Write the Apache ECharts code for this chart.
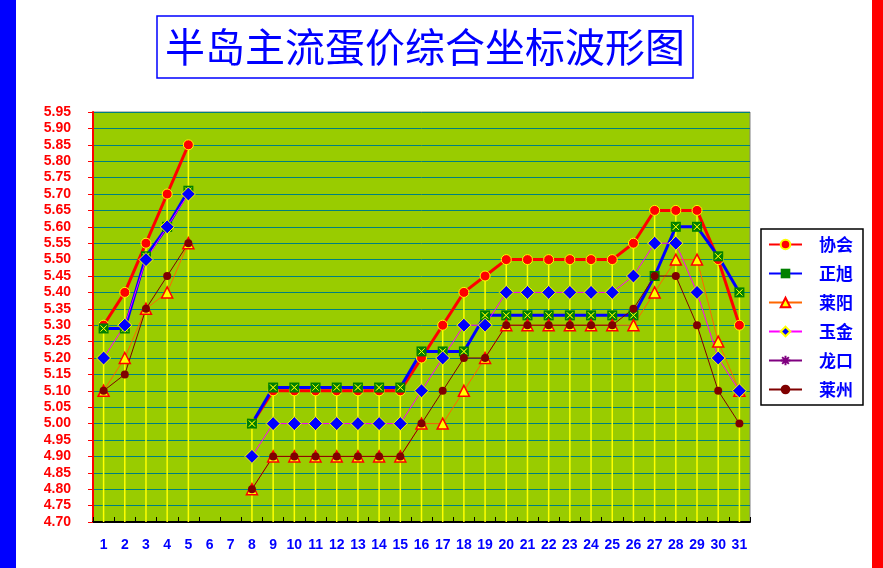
<!DOCTYPE html>
<html>
<head>
<meta charset="utf-8">
<script src="https://cdn.jsdelivr.net/npm/echarts@6/dist/echarts.min.js"></script>
<style>
  html, body { margin: 0; padding: 0; background: #fff; }
  #main { width: 883px; height: 568px; }
</style>
</head>
<body>
<div id="main"></div>
<script>
// 日期 1..31
var days = [];
for (var d = 1; d <= 31; d++) { days.push(String(d)); }

var xiehui   = [5.30, 5.40, 5.55, 5.70, 5.85, null, null, 5.00, 5.10, 5.10, 5.10, 5.10, 5.10, 5.10, 5.10, 5.20, 5.30, 5.40, 5.45, 5.50, 5.50, 5.50, 5.50, 5.50, 5.50, 5.55, 5.65, 5.65, 5.65, 5.50, 5.30];
var zhengxu  = [5.29, 5.29, 5.51, 5.60, 5.71, null, null, 5.00, 5.11, 5.11, 5.11, 5.11, 5.11, 5.11, 5.11, 5.22, 5.22, 5.22, 5.33, 5.33, 5.33, 5.33, 5.33, 5.33, 5.33, 5.33, 5.45, 5.60, 5.60, 5.51, 5.40];
var laiyang  = [5.10, 5.20, 5.35, 5.40, 5.55, null, null, 4.80, 4.90, 4.90, 4.90, 4.90, 4.90, 4.90, 4.90, 5.00, 5.00, 5.10, 5.20, 5.30, 5.30, 5.30, 5.30, 5.30, 5.30, 5.30, 5.40, 5.50, 5.50, 5.25, 5.10];
var yujin    = [5.20, 5.30, 5.50, 5.60, 5.70, null, null, 4.90, 5.00, 5.00, 5.00, 5.00, 5.00, 5.00, 5.00, 5.10, 5.20, 5.30, 5.30, 5.40, 5.40, 5.40, 5.40, 5.40, 5.40, 5.45, 5.55, 5.55, 5.40, 5.20, 5.10];
var longkou  = days.map(function () { return null; });
var laizhou  = [5.10, 5.15, 5.35, 5.45, 5.55, null, null, 4.80, 4.90, 4.90, 4.90, 4.90, 4.90, 4.90, 4.90, 5.00, 5.10, 5.20, 5.20, 5.30, 5.30, 5.30, 5.30, 5.30, 5.30, 5.35, 5.45, 5.45, 5.30, 5.10, 5.00];

var yMin = 4.70, yMax = 5.95, yStep = 0.05;

// 垂直线: 每天最高价
var allSeries = [xiehui, zhengxu, laiyang, yujin, longkou, laizhou];
var dropLine = days.map(function (d, i) {
    var m = null;
    allSeries.forEach(function (s) {
        if (s[i] != null && (m == null || s[i] > m)) m = s[i];
    });
    return m;
});

var chart = echarts.init(document.getElementById('main'));
var option = {
    backgroundColor: '#ffffff',
    animation: false,
    title: {
        text: '半岛主流蛋价综合坐标波形图',
        left: 157,
        top: 16,
        padding: [11, 8, 11, 8],
        borderColor: '#0000ff',
        borderWidth: 1.5,
        textStyle: {
            color: '#0000ff',
            fontSize: 40,
            fontWeight: 'normal',
            fontFamily: 'Noto Sans CJK SC'
        }
    },
    graphic: [
        {type: 'rect', shape: {x: 0, y: 0, width: 16, height: 568}, style: {fill: '#0000ff'}},
        {type: 'rect', shape: {x: 872, y: 0, width: 11, height: 568}, style: {fill: '#ff0000'}}
    ],
    legend: {
        orient: 'vertical',
        left: 761,
        top: 229,
        data: ['协会', '正旭', '莱阳', '玉金', '龙口', '莱州'],
        backgroundColor: '#ffffff',
        borderColor: '#000000',
        borderWidth: 1.5,
        padding: [7, 10, 7, 7],
        itemGap: 12,
        itemWidth: 33,
        itemHeight: 12,
        textStyle: {
            color: '#0000ff',
            fontSize: 17,
            fontWeight: 'bold',
            fontFamily: 'Noto Sans CJK SC',
            padding: [0, 0, 0, 12]
        }
    },
    grid: {
        left: 93,
        right: 133,
        top: 112,
        bottom: 46,
        show: true,
        backgroundColor: '#99cc00',
        borderColor: '#808080',
        borderWidth: 1
    },
    xAxis: {
        type: 'category',
        data: days,
        boundaryGap: true,
        axisLine: {lineStyle: {color: '#000000', width: 2}},
        axisTick: {show: true, inside: true, length: 5, lineStyle: {color: '#000000'}},
        axisLabel: {
            interval: 0,
            color: '#0000ff',
            fontSize: 14,
            fontWeight: 'bold',
            fontFamily: 'Arial',
            margin: 16
        },
        splitLine: {show: false}
    },
    yAxis: {
        type: 'value',
        min: yMin,
        max: yMax,
        interval: yStep,
        axisLine: {show: true, lineStyle: {color: '#ff0000', width: 2}},
        axisTick: {show: true, length: 5, lineStyle: {color: '#ff0000'}},
        axisLabel: {
            color: '#ff0000',
            fontSize: 14,
            fontWeight: 'bold',
            fontFamily: 'Arial',
            margin: 22,
            formatter: function (v) { return v.toFixed(2); }
        },
        splitLine: {show: true, lineStyle: {color: '#008080', width: 1}}
    },
    series: [
        {
            name: 'drop',
            type: 'bar',
            data: dropLine,
            barWidth: 1.5,
            silent: true,
            z: 1,
            itemStyle: {color: '#ffff00'}
        },
        {
            name: '协会',
            type: 'line',
            data: xiehui,
            symbol: 'circle',
            symbolSize: 10,
            itemStyle: {color: '#ff0000', borderColor: '#ffff00', borderWidth: 1},
            lineStyle: {color: '#ff0000', width: 3}
        },
        {
            name: '正旭',
            type: 'line',
            data: zhengxu,
            symbol: 'rect',
            symbolSize: 10,
            itemStyle: {color: '#008000', borderColor: '#008000', borderWidth: 0},
            lineStyle: {color: '#0000ff', width: 3}
        },
        {
            name: '正旭x',
            type: 'scatter',
            data: zhengxu,
            symbol: 'path://M0,0L10,10L5,5L10,0L0,10L5,5Z',
            symbolSize: 6,
            silent: true,
            z: 3,
            itemStyle: {color: 'transparent', borderColor: '#ffff00', borderWidth: 1}
        },
        {
            name: '莱阳',
            type: 'line',
            data: laiyang,
            symbol: 'triangle',
            symbolSize: 11,
            itemStyle: {color: '#ffff00', borderColor: '#ff0000', borderWidth: 1.5},
            lineStyle: {color: '#ff6600', width: 1}
        },
        {
            name: '玉金',
            type: 'line',
            data: yujin,
            symbol: 'diamond',
            symbolSize: 14,
            itemStyle: {color: '#0000ff', borderColor: '#ffff00', borderWidth: 1},
            lineStyle: {color: '#ff00ff', width: 1}
        },
        {
            name: '龙口',
            type: 'line',
            data: longkou,
            symbol: 'path://M5,0L5,10M0,5L10,5M1.5,1.5L8.5,8.5M8.5,1.5L1.5,8.5',
            symbolSize: 8,
            itemStyle: {color: '#800080', borderColor: '#800080', borderWidth: 1.5},
            lineStyle: {color: '#800080', width: 2}
        },
        {
            name: '莱州',
            type: 'line',
            data: laizhou,
            symbol: 'circle',
            symbolSize: 8,
            itemStyle: {color: '#800000'},
            lineStyle: {color: '#800000', width: 1}
        }
    ]
};
chart.setOption(option);
</script>
</body>
</html>
